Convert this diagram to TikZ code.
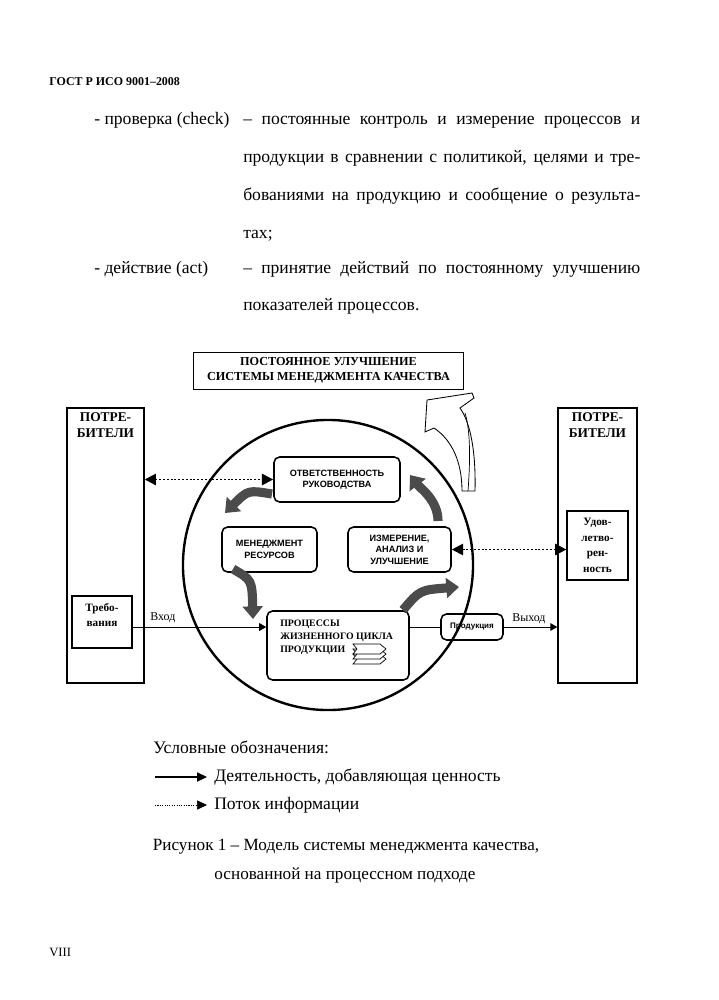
\documentclass[tikz,border=0pt]{standalone}
\usepackage{fontspec}
\setmainfont{Liberation Serif}
\setsansfont{Liberation Sans}
\usepackage{tikz}
\usetikzlibrary{arrows.meta,positioning,calc}
\definecolor{turngray}{RGB}{75,75,75}

\begin{document}
\begin{tikzpicture}[x=0.025cm,y=-0.025cm,
  txt/.style={anchor=base west,inner sep=0pt,font=\fontsize{12.5}{15}\selectfont},
  rbox/.style={draw,rounded corners=4pt,line width=1.1pt,align=center,font=\sffamily\bfseries\fontsize{6.5}{8.2}\selectfont},
  sbox/.style={draw,line width=0.9pt,align=center,font=\bfseries\fontsize{8}{10.5}\selectfont},
  info/.style={line width=1.4pt,dash pattern=on 1.4pt off 1.3pt,{Triangle[length=8pt,width=8pt]}-{Triangle[length=8pt,width=8pt]}},
  flow/.style={line width=0.7pt,-{Triangle[length=5pt,width=5.5pt]}},
  turn/.style={line width=6.5pt,draw=turngray,-{Triangle[length=9pt,width=14pt]}}]
\path[use as bounding box,fill=white] (0,0) rectangle (718,1000);

% text above the figure
\node[txt,font=\bfseries\fontsize{8.5}{10}\selectfont] (gost) at (49,85) {ГОСТ Р ИСО 9001–2008};
\node[txt] (chk) at (94,124) {- проверка (check)};
\node[txt] (chk1) at (243,124) {\makebox[9.925cm][s]{– постоянные контроль и измерение процессов и}};
\node[txt] (chk2) at (243,162) {\makebox[9.925cm][s]{продукции в сравнении с политикой, целями и тре-}};
\node[txt] (chk3) at (243,200) {\makebox[9.925cm][s]{бованиями на продукцию и сообщение о результа-}};
\node[txt] (chk4) at (243,238) {тах;};
\node[txt] (act) at (94,273) {- действие (act)};
\node[txt] (act1) at (243,273) {\makebox[9.925cm][s]{– принятие действий по постоянному улучшению}};
\node[txt] (act2) at (243,310) {показателей процессов.};

% figure
\node[draw,line width=0.7pt,minimum width=6.725cm,minimum height=0.925cm,align=center,font=\bfseries\fontsize{8.7}{10.6}\selectfont] (cpi) at (328.5,370.5) {ПОСТОЯННОЕ УЛУЧШЕНИЕ\\СИСТЕМЫ МЕНЕДЖМЕНТА КАЧЕСТВА};
\node[draw,line width=1pt,minimum width=1.925cm,minimum height=6.875cm] (consL) at (105.5,545.5) {};
\node[draw,line width=1pt,minimum width=1.975cm,minimum height=6.875cm] (consR) at (597.5,545.5) {};
\node[below=0.14cm of consL.north,inner sep=0pt,align=center,font=\bfseries\fontsize{9.5}{11.3}\selectfont] (consLt) {ПОТРЕ-\\БИТЕЛИ};
\node[below=0.14cm of consR.north,inner sep=0pt,align=center,font=\bfseries\fontsize{9.5}{11.3}\selectfont] (consRt) {ПОТРЕ-\\БИТЕЛИ};
\node[sbox,minimum width=1.5cm,minimum height=1.3cm] (req) at (102,622) {};
\node[below=0.2cm of req.north,inner sep=0pt,align=center,font=\bfseries\fontsize{8}{10.5}\selectfont] (reqt) {Требо-\\вания};
\node[sbox,minimum width=1.525cm,minimum height=1.725cm,font=\bfseries\fontsize{8}{11}\selectfont] (sat) at (597.5,545.5) {Удов-\\летво-\\рен-\\ность};

\node[circle,draw,line width=1.7pt,minimum size=7.25cm] (cyc) at (328,565) {};
\node[rbox,minimum width=3.15cm,minimum height=1.125cm] (resp) at (337,479.5) {ОТВЕТСТВЕННОСТЬ\\РУКОВОДСТВА};
\node[rbox,minimum width=2.375cm,minimum height=1.125cm] (res) at (269.5,549.5) {МЕНЕДЖМЕНТ\\РЕСУРСОВ};
\node[rbox,minimum width=2.575cm,minimum height=1.125cm] (meas) at (399.5,549.5) {ИЗМЕРЕНИЕ,\\АНАЛИЗ И\\УЛУЧШЕНИЕ};
\node[rbox,minimum width=3.55cm,minimum height=1.725cm] (proc) at (338,645.5) {};
\node[anchor=north west,inner sep=0pt,align=left,font=\bfseries\fontsize{7}{9.2}\selectfont] (proct) at (280,620) {ПРОЦЕССЫ\\ЖИЗНЕННОГО ЦИКЛА\\ПРОДУКЦИИ};
\node[rbox,minimum width=1.55cm,minimum height=0.65cm,inner xsep=1pt,font=\sffamily\bfseries\fontsize{5.7}{7}\selectfont] (prod) at (472,627) {Продукция};

% stacked sheets icon
\foreach \k in {2,1,0}{
  \filldraw[fill=white,line width=0.5pt] (353,644+5*\k) -- (380,644+5*\k) -- (386,649+5*\k) -- (380,654+5*\k) -- (353,654+5*\k) -- (357,649+5*\k) -- cycle;
}

% connectors
\draw[flow] (req.east |- prod) -- (proc.west |- prod);
\draw[line width=0.7pt] (proc.east |- prod) -- (prod.west);
\draw[flow] (prod.east) -- (consR.west |- prod);
\node[anchor=base west,inner sep=0pt,font=\fontsize{8.5}{10}\selectfont] (inp) at (150,620) {Вход};
\node[anchor=base west,inner sep=0pt,font=\fontsize{8.5}{10}\selectfont] (outp) at (512,621) {Выход};
\draw[info] (consL.east |- resp) -- (resp.west);
\draw[info] (meas.east) -- (sat.west |- meas);

% cycle arrows
\draw[turn] (272,494) .. controls (248,490) .. (225,513);
\draw[turn] (233,569) .. controls (252,580) .. (253,619);
\draw[turn] (403,610) .. controls (420,590) .. (459,587);
\draw[turn] (438,521) .. controls (438,500) and (420,488) .. (410,475);

% improvement arrow
\filldraw[fill=white,line width=0.6pt] (427,400) -- (472,393) -- (474,398) -- (460,408)
  .. controls (470,422) and (476,450) .. (475,491) -- (462,491)
  .. controls (462,462) and (452,440) .. (434,428) -- (425,432) -- cycle;
\draw[line width=0.5pt] (465,413) .. controls (471,432) and (470,465) .. (468,491);

% legend
\node[txt] (leg) at (153,753) {Условные обозначения:};
\coordinate (l1a) at (155,777);
\node[txt] (l1) at (214,781) {Деятельность, добавляющая ценность};
\draw[line width=0.9pt,-{Triangle[length=7pt,width=6.5pt]}] (l1a) -- ([xshift=-5pt]l1a -| l1.west);
\coordinate (l2a) at (155,805);
\node[txt] (l2) at (214,809) {Поток информации};
\draw[line width=0.4pt,dash pattern=on 0.8pt off 0.9pt,-{Triangle[length=7pt,width=6.5pt]}] (l2a) -- ([xshift=-5pt]l2a -| l2.west);
\node[anchor=base,inner sep=0pt,font=\fontsize{12.2}{15}\selectfont] (cap1) at (346,850) {Рисунок 1 – Модель системы менеджмента качества,};
\node[anchor=base,inner sep=0pt,font=\fontsize{12.2}{15}\selectfont] (cap2) at (345,879) {основанной на процессном подходе};
\node[txt,font=\fontsize{9}{10}\selectfont] (page) at (49,956) {VIII};
\end{tikzpicture}
\end{document}
